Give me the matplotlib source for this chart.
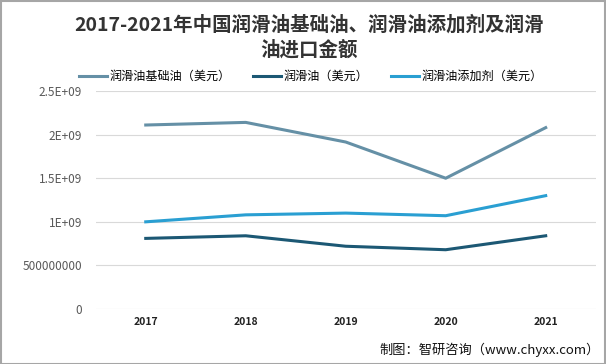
import matplotlib.pyplot as plt
from matplotlib.patches import Rectangle

plt.rcParams['font.family'] = ['Noto Sans CJK SC', 'DejaVu Sans']

years = ['2017', '2018', '2019', '2020', '2021']
base_oil = [2.11e9, 2.14e9, 1.915e9, 1.50e9, 2.08e9]
lube_oil = [0.81e9, 0.84e9, 0.72e9, 0.68e9, 0.84e9]
additive = [1.00e9, 1.08e9, 1.10e9, 1.07e9, 1.30e9]
names = ['润滑油基础油（美元）', '润滑油（美元）', '润滑油添加剂（美元）']
colors = ['#6590A6', '#1C5874', '#2A9FD2']
yticks = [0, 0.5e9, 1e9, 1.5e9, 2e9, 2.5e9]
ytick_labels = ['0', '500000000', '1E+09', '1.5E+09', '2E+09', '2.5E+09']

fig = plt.figure(figsize=(6.06, 3.64), dpi=100)
ax = fig.add_axes([0.158, 0.151, 0.825, 0.599])

x = range(len(years))
for vals, name, c in zip([base_oil, lube_oil, additive], names, colors):
    ax.plot(x, vals, color=c, linewidth=2.2, label=name)

ax.set_xlim(-0.5, len(years) - 0.5)
ax.set_ylim(0, 2.5e9)
ax.set_yticks(yticks)
ax.set_yticklabels(ytick_labels, color='#595959', fontsize=8.5)
ax.set_xticks(list(x))
ax.set_xticklabels(years, fontsize=7.5, fontweight='bold', color='#222222')
ax.grid(axis='y', color='#d9d9d9', linewidth=0.8)
ax.set_axisbelow(True)
for s in ax.spines.values():
    s.set_visible(False)
ax.tick_params(length=0, pad=6)
ax.tick_params(axis='y', pad=10)

fig.suptitle('2017-2021年中国润滑油基础油、润滑油添加剂及润滑\n油进口金额',
             x=0.51, y=0.96, fontsize=14, fontweight='bold', color='#333333',
             linespacing=1.4)

fig.legend(loc='center', bbox_to_anchor=(0.513, 0.79), ncol=3, frameon=False,
           fontsize=8.7, handlelength=2.3, columnspacing=1.9, handletextpad=0.2)

fig.text(0.99, 0.02, '制图：智研咨询（www.chyxx.com）', ha='right', va='bottom',
         fontsize=9.5, color='#111111')

fig.patches.append(Rectangle((0.001, 0.001), 0.997, 0.996, transform=fig.transFigure,
                             fill=False, edgecolor='#a6a6a6', linewidth=1.5))

fig.savefig('out.png', dpi=100)
